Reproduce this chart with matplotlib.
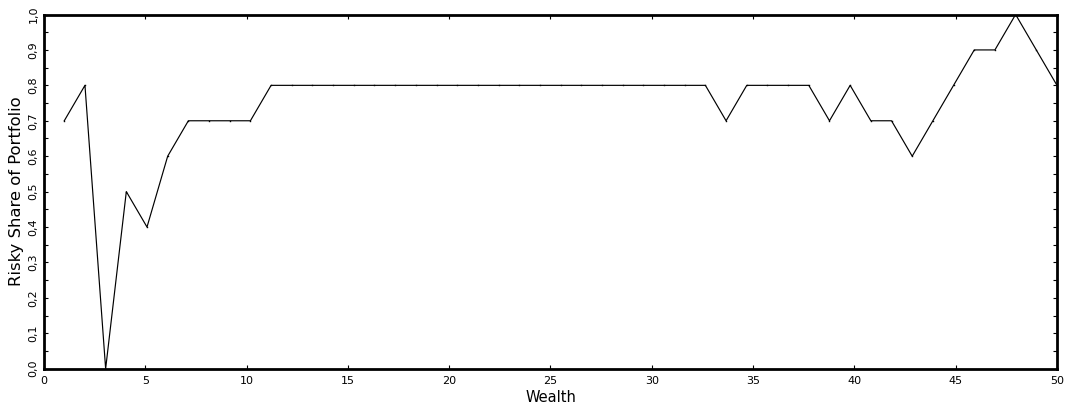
import numpy as np
import matplotlib
matplotlib.use("Agg")
import matplotlib.pyplot as plt
from matplotlib.ticker import MultipleLocator, FuncFormatter

# Wealth grid (49 evenly spaced nodes from 1 to 50)
wealth = np.linspace(1, 50, 49)

# Optimal risky share at each wealth node
risky_share = [
    0.7, 0.8, 0.0, 0.5, 0.4, 0.6, 0.7, 0.7, 0.7, 0.7,
    0.8, 0.8, 0.8, 0.8, 0.8, 0.8, 0.8, 0.8, 0.8, 0.8,
    0.8, 0.8, 0.8, 0.8, 0.8, 0.8, 0.8, 0.8, 0.8, 0.8,
    0.8, 0.8, 0.7, 0.8, 0.8, 0.8, 0.8, 0.7, 0.8, 0.7,
    0.7, 0.6, 0.7, 0.8, 0.9, 0.9, 1.0, 0.9, 0.8,
]

x_label = "Wealth"
y_label = "Risky Share of Portfolio"

plt.rcParams["font.family"] = ["DejaVu Sans"]

fig = plt.figure(figsize=(10.71, 4.11), dpi=100)
ax = fig.add_axes([0.0411, 0.1029, 0.9458, 0.8618])

ax.plot(wealth, risky_share, color="black", linewidth=0.85,
        marker="s", markersize=1.0, markeredgewidth=0)

ax.set_xlim(0, 50)
ax.set_ylim(0, 1.0)
ax.xaxis.set_major_locator(MultipleLocator(5))
ax.yaxis.set_major_locator(MultipleLocator(0.1))
ax.yaxis.set_minor_locator(MultipleLocator(0.05))
ax.yaxis.set_major_formatter(FuncFormatter(lambda v, p: f"{v:.1f}".replace(".", ",")))

for side in ["left", "right", "top", "bottom"]:
    ax.spines[side].set_linewidth(2.0)

ax.tick_params(axis="both", which="both", direction="in", top=True, right=True,
               length=3, width=0.8, labelsize=8)
ax.tick_params(axis="x", pad=5)
ax.tick_params(axis="y", pad=4)
for lbl in ax.get_yticklabels():
    lbl.set_rotation(90)
    lbl.set_va("center")

ax.set_xlabel(x_label, fontsize=10.5, labelpad=3)
ax.set_ylabel(y_label, fontsize=11.8, labelpad=3)

fig.savefig("out.png", dpi=100)
